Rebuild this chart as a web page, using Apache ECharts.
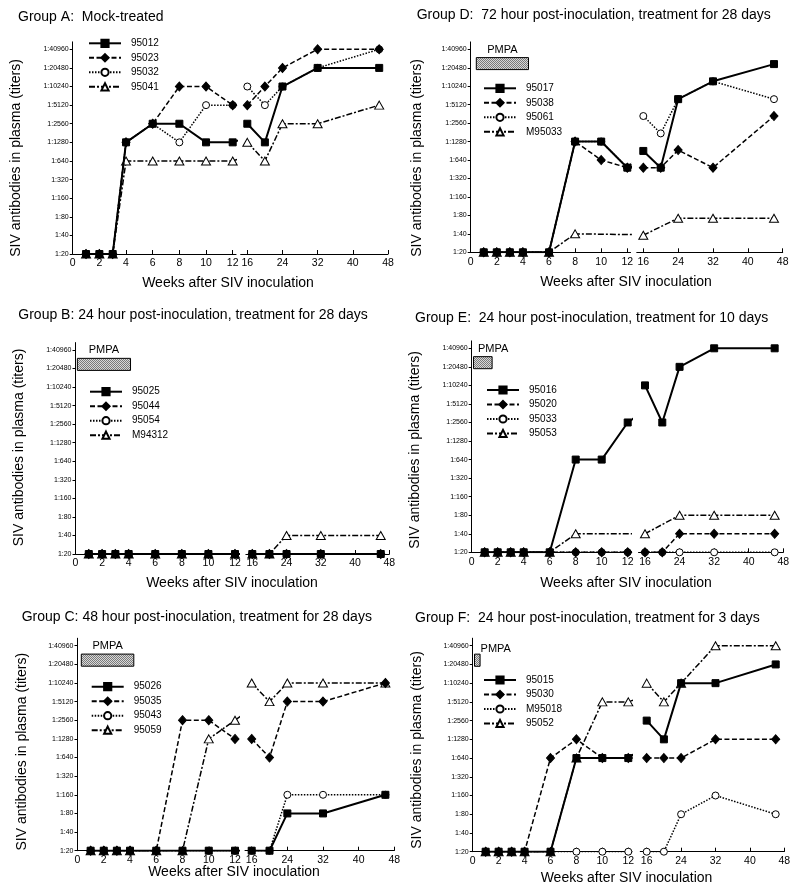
<!DOCTYPE html>
<html><head><meta charset="utf-8">
<script src="https://cdn.jsdelivr.net/npm/echarts@6/dist/echarts.min.js"></script>
<style>html,body{margin:0;padding:0;background:#fff}#c{width:800px;height:894px}</style>
</head><body><div id="c"></div>
<script>
// ---------- data ----------
const weeks = [1, 2, 3, 4, 6, 8, 10, 12, 16, 20, 24, 32, 46];
const titerTicks = [20, 40, 80, 160, 320, 640, 1280, 2560, 5120, 10240, 20480, 40960];
const leftWeekTicks = [0, 2, 4, 6, 8, 10, 12];
const rightWeekTicks = [16, 24, 32, 40, 48];
const xAxisName = 'Weeks after SIV inoculation';
const yAxisName = 'SIV antibodies in plasma (titers)';

const groupATitle = 'Group A:  Mock-treated';
const groupANames = ['95012', '95023', '95032', '95041'];
const groupA95012 = [20, 20, 20, 1280, 2560, 2560, 1280, 1280, 2560, 1280, 10240, 20480, 20480];
const groupA95023 = [20, 20, 20, 1280, 2560, 10240, 10240, 5120, 5120, 10240, 20480, 40960, 40960];
const groupA95032 = [20, 20, 20, 1280, 2560, 1280, 5120, 5120, 10240, 5120, 10240, 20480, 40960];
const groupA95041 = [20, 20, 20, 640, 640, 640, 640, 640, 1280, 640, 2560, 2560, 5120];

const groupBTitle = 'Group B: 24 hour post-inoculation, treatment for 28 days';
const groupBNames = ['95025', '95044', '95054', 'M94312'];
const groupB95025 = [20, 20, 20, 20, 20, 20, 20, 20, 20, 20, 20, 20, 20];
const groupB95044 = [20, 20, 20, 20, 20, 20, 20, 20, 20, 20, 20, 20, 20];
const groupB95054 = [20, 20, 20, 20, 20, 20, 20, 20, 20, 20, 20, 20, 20];
const groupBM94312 = [20, 20, 20, 20, 20, 20, 20, 20, 20, 20, 40, 40, 40];
const groupBPmpa = [0.14, 4.14];

const groupCTitle = 'Group C: 48 hour post-inoculation, treatment for 28 days';
const groupCNames = ['95026', '95035', '95043', '95059'];
const groupC95026 = [20, 20, 20, 20, 20, 20, 20, 20, 20, 20, 80, 80, 160];
const groupC95035 = [20, 20, 20, 20, 20, 2560, 2560, 1280, 1280, 640, 5120, 5120, 10240];
const groupC95043 = [20, 20, 20, 20, 20, 20, 20, 20, 20, 20, 160, 160, 160];
const groupC95059 = [20, 20, 20, 20, 20, 20, 1280, 2560, 10240, 5120, 10240, 10240, 10240];
const groupCPmpa = [0.29, 4.29];

const groupDTitle = 'Group D:  72 hour post-inoculation, treatment for 28 days';
const groupDNames = ['95017', '95038', '95061', 'M95033'];
const groupD95017 = [20, 20, 20, 20, 20, 1280, 1280, 480, 900, 480, 6300, 12300, 23500];
const groupD95038 = [20, 20, 20, 20, 20, 1280, 640, 480, 480, 480, 930, 480, 3340];
const groupD95061 = [20, 20, 20, 20, 20, 1280, 1280, 480, 3340, 1740, 6300, 12300, 6300];
const groupDM95033 = [20, 20, 20, 20, 20, 40, null, null, 38, null, 72, 72, 72];
const groupDPmpa = [0.43, 4.43];

const groupETitle = 'Group E:  24 hour post-inoculation, treatment for 10 days';
const groupENames = ['95016', '95020', '95033', '95053'];
const groupE95016 = [20, 20, 20, 20, 20, 640, 640, 2560, 10240, 2560, 20480, 40960, 40960];
const groupE95020 = [20, 20, 20, 20, 20, 20, 20, 20, 20, 20, 40, 40, 40];
const groupE95033 = [20, 20, 20, 20, 20, 20, 20, 20, 20, 20, 20, 20, 20];
const groupE95053 = [20, 20, 20, 20, 20, 40, null, null, 40, null, 80, 80, 80];
const groupEPmpa = [0.14, 1.57];

const groupFTitle = 'Group F:  24 hour post-inoculation, treatment for 3 days';
const groupFNames = ['95015', '95030', 'M95018', '95052'];
const groupF95015 = [20, 20, 20, 20, 20, 640, 640, 640, 2560, 1280, 10240, 10240, 20480];
const groupF95030 = [20, 20, 20, 20, 640, 1280, 640, 640, 640, 640, 640, 1280, 1280];
const groupFM95018 = [20, 20, 20, 20, 20, 20, 20, 20, 20, 20, 80, 160, 80];
const groupF95052 = [20, 20, 20, 20, 20, 640, 5120, 5120, 10240, 5120, 10240, 40960, 40960];
const groupFPmpa = [0.14, 0.57];

// ---------- layout / style ----------
const FONT = "'Liberation Sans', Arial, sans-serif";
const panels = [
  {title: groupATitle, names: groupANames, values: [groupA95012, groupA95023, groupA95032, groupA95041], pmpa: null,
   L: {x0: 72.7, x12: 232.7, x16: 247.3, x48: 388, yTop: 49.3, yBot: 254, tx: 18, ty: 16.7, nx: 228, ny: 283.3, yx: 15.7, yy: 158, lx: 88, ly: 43.3}},
  {title: groupBTitle, names: groupBNames, values: [groupB95025, groupB95044, groupB95054, groupBM94312], pmpa: groupBPmpa, pmpaPos: 'top',
   L: {x0: 75.5, x12: 235, x16: 252.3, x48: 389.3, yTop: 350, yBot: 554, tx: 18.3, ty: 315, nx: 232, ny: 583.3, yx: 19, yy: 447.5, lx: 89, ly: 391.7}},
  {title: groupCTitle, names: groupCNames, values: [groupC95026, groupC95035, groupC95043, groupC95059], pmpa: groupCPmpa, pmpaPos: 'top',
   L: {x0: 77.5, x12: 235, x16: 251.7, x48: 394.3, yTop: 645.7, yBot: 850.7, tx: 21.7, ty: 616.7, nx: 234, ny: 872.5, yx: 22.3, yy: 751.7, lx: 90.7, ly: 686.7}},
  {title: groupDTitle, names: groupDNames, values: [groupD95017, groupD95038, groupD95061, groupDM95033], pmpa: groupDPmpa, pmpaPos: 'top',
   L: {x0: 470.7, x12: 627.3, x16: 643.3, x48: 782.7, yTop: 49.3, yBot: 252.3, tx: 416.7, ty: 15, nx: 626, ny: 281.7, yx: 417.3, yy: 158, lx: 483, ly: 88.3}},
  {title: groupETitle, names: groupENames, values: [groupE95016, groupE95020, groupE95033, groupE95053], pmpa: groupEPmpa, pmpaPos: [5, -13],
   L: {x0: 471.7, x12: 627.7, x16: 645, x48: 783.3, yTop: 348.3, yBot: 552.3, tx: 415, ty: 318.3, nx: 626, ny: 582.7, yx: 415, yy: 450, lx: 486, ly: 390}},
  {title: groupFTitle, names: groupFNames, values: [groupF95015, groupF95030, groupFM95018, groupF95052], pmpa: groupFPmpa, pmpaPos: ['100%', -10],
   L: {x0: 472.7, x12: 628.3, x16: 646.7, x48: 784.3, yTop: 645.7, yBot: 851.7, tx: 415, ty: 618.3, nx: 626.5, ny: 878.3, yx: 416.7, yy: 750, lx: 483, ly: 680}}
];
const seriesStyles = [
  {symbol: 'rect', size: 7, fill: '#000', type: 'solid', width: 2},
  {symbol: 'diamond', size: [8, 9], fill: '#000', type: [5, 2.5], width: 1.5},
  {symbol: 'circle', size: 7, fill: '#fff', type: [1.5, 1.5], width: 1.5},
  {symbol: 'triangle', size: [9, 8], fill: '#fff', type: [6, 2, 2, 2], width: 1.5}
];
const Y_MAX = 11.4;
const LEFT_MAX = 12.25, RIGHT_MIN = 14.5, RIGHT_MAX = 48;

// stipple pattern for PMPA bar
const pc = document.createElement('canvas');
pc.width = 2; pc.height = 2;
const pctx = pc.getContext('2d');
pctx.fillStyle = '#d8d8d8'; pctx.fillRect(0, 0, 2, 2);
pctx.fillStyle = '#7a7a7a'; pctx.fillRect(0, 0, 1, 1); pctx.fillRect(1, 1, 1, 1);

const toLevel = t => Math.log2(t / 20);
const levelTicks = titerTicks.map(toLevel);

const grid = [], xAxis = [], yAxis = [], series = [], legend = [], graphic = [];
panels.forEach((p, pi) => {
  const L = p.L;
  const sp = (L.yBot - L.yTop) / 11;
  const gTop = L.yTop - (Y_MAX - 11) * sp;
  const h = L.yBot - gTop;
  const lw = (L.x12 - L.x0) / 12;
  const rw = (L.x48 - L.x16) / 32;
  const rLeft = L.x16 - (16 - RIGHT_MIN) * rw;
  grid.push({left: L.x0, top: gTop, width: lw * LEFT_MAX, height: h});
  grid.push({left: rLeft, top: gTop, width: L.x48 - rLeft, height: h});
  const xCommon = {
    type: 'value', splitLine: {show: false},
    axisLine: {show: true, lineStyle: {color: '#000', width: 1}},
    axisTick: {show: true, inside: true, length: 4, lineStyle: {color: '#000'}},
    axisLabel: {color: '#000', fontFamily: FONT, fontSize: 10.5, margin: 4}
  };
  xAxis.push(Object.assign({}, xCommon, {gridIndex: 2 * pi, min: 0, max: LEFT_MAX,
    axisTick: Object.assign({}, xCommon.axisTick, {customValues: leftWeekTicks}),
    axisLabel: Object.assign({}, xCommon.axisLabel, {customValues: leftWeekTicks})}));
  xAxis.push(Object.assign({}, xCommon, {gridIndex: 2 * pi + 1, min: RIGHT_MIN, max: RIGHT_MAX,
    axisTick: Object.assign({}, xCommon.axisTick, {customValues: rightWeekTicks}),
    axisLabel: Object.assign({}, xCommon.axisLabel, {customValues: rightWeekTicks})}));
  yAxis.push({type: 'value', gridIndex: 2 * pi, min: 0, max: Y_MAX, splitLine: {show: false},
    axisLine: {show: true, lineStyle: {color: '#000', width: 1}},
    axisTick: {show: true, inside: false, length: 3, customValues: levelTicks, lineStyle: {color: '#000'}},
    axisLabel: {color: '#000', fontFamily: FONT, fontSize: 7, margin: 4, customValues: levelTicks,
      formatter: v => '1:' + Math.round(20 * Math.pow(2, v))}});
  yAxis.push({type: 'value', gridIndex: 2 * pi + 1, min: 0, max: Y_MAX, show: false});

  // series, drawn in reverse so the square series is on top
  for (let k = 3; k >= 0; k--) {
    const st = seriesStyles[k];
    const pts = [];
    weeks.forEach((w, i) => { const v = p.values[k][i]; if (v != null) pts.push([w, toLevel(v)]); });
    const base = {
      type: 'line', name: p.names[k], symbol: st.symbol, symbolSize: st.size, showAllSymbol: true,
      clip: true, animation: false, silent: true, z: 2 + (3 - k),
      itemStyle: {color: st.fill, borderColor: '#000', borderWidth: 1},
      lineStyle: {color: '#000', width: st.width, type: st.type},
      emphasis: {disabled: true}
    };
    const left = Object.assign({}, base, {xAxisIndex: 2 * pi, yAxisIndex: 2 * pi, data: pts.filter(d => d[0] <= 16)});
    if (k === 0 && p.pmpa) {
      left.markArea = {
        silent: true,
        itemStyle: {color: {image: pc, repeat: 'repeat'}, borderColor: '#000', borderWidth: 1},
        label: {show: true, position: p.pmpaPos, distance: 2, formatter: 'PMPA', color: '#000', fontSize: 11, fontFamily: FONT},
        data: [[{xAxis: p.pmpa[0], yAxis: 9.9}, {xAxis: p.pmpa[1], yAxis: 10.55}]]
      };
    }
    series.push(left);
    series.push(Object.assign({}, base, {xAxisIndex: 2 * pi + 1, yAxisIndex: 2 * pi + 1, data: pts.filter(d => d[0] >= 16)}));
  }

  legend.push({
    orient: 'vertical', left: L.lx, top: L.ly - 5, itemWidth: 32, itemHeight: 9, itemGap: 4.5,
    selectedMode: false, padding: 0, data: p.names,
    textStyle: {color: '#000', fontSize: 10, fontFamily: FONT, padding: [0, 0, 0, 5]}
  });

  const txt = (x, y, text, rot, align) => ({
    type: 'text', x: x, y: y, rotation: rot || 0, silent: true,
    style: {text: text, fill: '#000', fontSize: 14, fontFamily: FONT,
      textAlign: align, align: align, textVerticalAlign: 'middle', verticalAlign: 'middle'}
  });
  graphic.push(txt(L.tx, L.ty, p.title, 0, 'left'));
  graphic.push(txt(L.nx, L.ny, xAxisName, 0, 'center'));
  graphic.push(txt(L.yx, L.yy, yAxisName, Math.PI / 2, 'center'));
});

const chart = echarts.init(document.getElementById('c'), null, {renderer: 'canvas'});
chart.setOption({
  animation: false, backgroundColor: '#fff',
  grid: grid, xAxis: xAxis, yAxis: yAxis, series: series, legend: legend, graphic: graphic
});
</script></body></html>
